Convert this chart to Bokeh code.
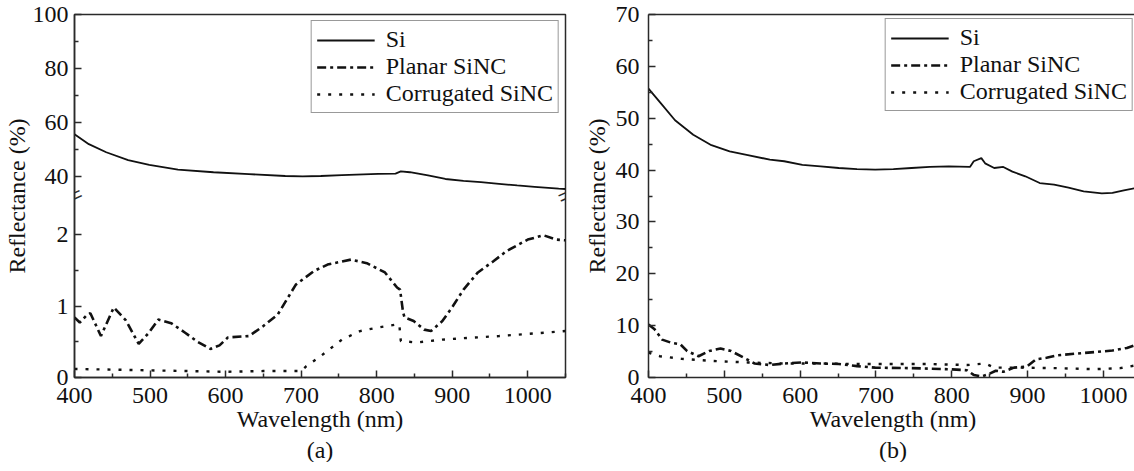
from bokeh.plotting import figure
from bokeh.models import Range1d, LinearAxis, FixedTicker, Label, Title
from bokeh.layouts import row
from bokeh.embed import file_html
from bokeh.resources import INLINE

# ---------------- data ----------------
# Panel (a)
a_si_wl = [400, 419, 442, 471, 499, 537, 584, 631, 679, 702, 726, 754, 773, 802, 825, 832, 844, 868, 891, 915, 938, 962, 986, 1009, 1041, 1050]
a_si_r = [55.7, 52.0, 49.0, 46.1, 44.3, 42.6, 41.6, 40.9, 40.2, 40.1, 40.2, 40.5, 40.7, 41.0, 41.1, 41.9, 41.6, 40.4, 39.1, 38.4, 37.9, 37.3, 36.7, 36.2, 35.5, 35.4]

a_pl_wl = [400, 407, 417, 421, 435, 452, 468, 485, 498, 511, 528, 546, 563, 580, 592, 603, 631, 650, 669, 693, 717, 735, 766, 787, 811, 827, 831, 835, 837, 849, 863, 872, 887, 901, 915, 934, 955, 972, 1000, 1021, 1038, 1050]
a_pl_r = [0.84, 0.77, 0.88, 0.90, 0.58, 0.98, 0.80, 0.47, 0.62, 0.81, 0.76, 0.63, 0.50, 0.40, 0.45, 0.56, 0.58, 0.72, 0.88, 1.30, 1.49, 1.58, 1.65, 1.60, 1.47, 1.26, 1.23, 0.91, 0.84, 0.79, 0.67, 0.65, 0.79, 1.00, 1.23, 1.47, 1.63, 1.77, 1.93, 1.99, 1.93, 1.92]

a_co_wl = [400, 450, 500, 550, 600, 650, 700, 707, 726, 754, 778, 802, 825, 830, 832, 853, 887, 915, 962, 1000, 1038, 1050]
a_co_r = [0.12, 0.11, 0.10, 0.09, 0.08, 0.09, 0.09, 0.16, 0.30, 0.53, 0.65, 0.70, 0.74, 0.74, 0.51, 0.49, 0.53, 0.55, 0.58, 0.61, 0.64, 0.65]

# Panel (b)
b_si_wl = [400, 415, 435, 459, 483, 507, 531, 560, 579, 603, 627, 651, 675, 699, 723, 747, 771, 796, 824, 829, 839, 844, 856, 868, 880, 897, 916, 935, 954, 974, 998, 1012, 1027, 1045]
b_si_r = [55.7, 53.1, 49.6, 46.8, 44.8, 43.6, 42.9, 42.0, 41.7, 41.0, 40.7, 40.4, 40.2, 40.1, 40.2, 40.4, 40.6, 40.7, 40.6, 41.7, 42.3, 41.3, 40.4, 40.6, 39.7, 38.8, 37.5, 37.2, 36.6, 35.9, 35.5, 35.6, 36.1, 36.6]

b_pl_wl = [400, 408, 418, 430, 442, 451, 466, 480, 495, 509, 526, 540, 560, 579, 603, 627, 651, 675, 699, 747, 796, 820, 829, 839, 848, 858, 868, 882, 899, 911, 925, 940, 964, 988, 1012, 1031, 1045]
b_pl_r = [10.2, 9.3, 7.3, 6.7, 6.4, 5.1, 4.1, 5.1, 5.6, 5.1, 3.8, 2.7, 2.4, 2.7, 2.9, 2.7, 2.6, 2.2, 1.9, 1.8, 1.6, 1.4, 0.5, 0.2, 0.6, 1.3, 1.1, 1.9, 2.1, 3.5, 3.8, 4.3, 4.6, 4.9, 5.2, 5.7, 6.4]

b_co_wl = [400, 415, 444, 483, 531, 579, 627, 675, 723, 771, 820, 844, 856, 892, 940, 988, 1022, 1045]
b_co_r = [4.8, 4.1, 3.6, 3.2, 2.9, 2.7, 2.7, 2.6, 2.6, 2.6, 2.4, 2.7, 1.9, 1.9, 1.8, 1.6, 1.8, 2.4]

x_ticks = [400, 500, 600, 700, 800, 900, 1000]
x_minor = [450, 550, 650, 750, 850, 950, 1050]
a_upper_ticks = [40, 60, 80, 100]
a_upper_minor = [50, 70, 90]
a_lower_ticks = [0, 1, 2]
a_lower_minor = [0.5, 1.5]
b_ticks = [0, 10, 20, 30, 40, 50, 60, 70]
b_minor = [5, 15, 25, 35, 45, 55, 65]

series_names = ["Si", "Planar SiNC", "Corrugated SiNC"]

# ---------------- style ----------------
FONT = "Liberation Serif"
FS = "24px"
INK = "#111111"
AX = "#2a2a2a"
DASHDOT = "9 4 3 4"
DOTTED = "3 8"

# broken axis of panel (a): lower range (main) and upper range (extra)
A_LOWER = (0.0, 5.08)
A_UPPER = (-34.4, 100.0)
A_BREAK = 2.545  # break position in lower-range units


def upper_to_lower(v):
    f = (v - A_UPPER[0]) / (A_UPPER[1] - A_UPPER[0])
    return round(A_LOWER[0] + f * (A_LOWER[1] - A_LOWER[0]), 4)


def style_axis(ax):
    ax.axis_line_color = AX
    ax.axis_line_width = 1.5
    ax.major_tick_in = 7
    ax.major_tick_out = 0
    ax.minor_tick_in = 4
    ax.minor_tick_out = 0
    ax.major_tick_line_color = AX
    ax.minor_tick_line_color = AX
    ax.major_tick_line_width = 1.5
    ax.minor_tick_line_width = 1.5
    ax.major_label_text_font = FONT
    ax.major_label_text_font_size = FS
    ax.major_label_text_color = INK
    ax.axis_label_text_font = FONT
    ax.axis_label_text_font_size = FS
    ax.axis_label_text_font_style = "normal"
    ax.axis_label_text_color = INK


def base_fig(x_end, frame_width, y_range, min_left, min_right):
    p = figure(frame_width=frame_width, frame_height=363,
               x_range=Range1d(400, x_end), y_range=y_range,
               output_backend="svg", toolbar_location=None,
               min_border_left=min_left, min_border_right=min_right,
               min_border_top=14, min_border_bottom=84,
               background_fill_color="white", border_fill_color="white")
    p.xgrid.visible = False
    p.ygrid.visible = False
    p.xaxis.ticker = FixedTicker(ticks=x_ticks, minor_ticks=x_minor)
    p.xaxis.axis_label = "Wavelength (nm)"
    p.yaxis.axis_label = "Reflectance (%)"
    for ax in p.xaxis + p.yaxis:
        style_axis(ax)
    p.xaxis.major_label_standoff = 10
    p.xaxis.axis_label_standoff = 0
    return p


def style_legend(p):
    lg = p.legend[0]
    lg.location = "top_right"
    lg.margin = 6
    lg.padding = 5
    lg.spacing = 0
    lg.label_height = 20
    lg.glyph_height = 20
    lg.glyph_width = 58
    lg.label_standoff = 11
    lg.label_text_font = FONT
    lg.label_text_font_size = FS
    lg.label_text_color = INK
    lg.border_line_color = "#333333"
    lg.border_line_width = 1
    lg.background_fill_alpha = 1.0


def add_caption(p, text):
    t = Title(text=text, align="center", text_font=FONT, text_font_size=FS,
              text_font_style="normal", text_color=INK, standoff=0)
    p.add_layout(t, "below")


# ---------------- panel (a) ----------------
pa = base_fig(1050, 491, Range1d(*A_LOWER), 67, 15)
pa.extra_y_ranges = {"upper": Range1d(*A_UPPER)}
pa.outline_line_color = AX
pa.outline_line_width = 1.5

ya_ticks = a_lower_ticks + [upper_to_lower(v) for v in a_upper_ticks]
ya_minor = a_lower_minor + [upper_to_lower(v) for v in a_upper_minor]
overrides = {v: str(v) for v in a_lower_ticks}
overrides.update({upper_to_lower(v): str(v) for v in a_upper_ticks})
pa.yaxis.ticker = FixedTicker(ticks=ya_ticks, minor_ticks=ya_minor)
pa.yaxis.major_label_overrides = overrides
pa.yaxis.major_label_standoff = 6
pa.yaxis.axis_label_standoff = 0

pa.line(a_si_wl, a_si_r, y_range_name="upper", line_color=INK, line_width=1.8,
        legend_label=series_names[0])
pa.line(a_pl_wl, a_pl_r, line_color=INK, line_width=2.6, line_dash=DASHDOT,
        legend_label=series_names[1])
pa.line(a_co_wl, a_co_r, line_color=INK, line_width=2.4, line_dash=DOTTED,
        legend_label=series_names[2])
style_legend(pa)
add_caption(pa, "(a)")

for xb in (400, 1050):
    pa.add_layout(Label(x=xb, y=A_BREAK, text="=", angle=0.42,
                        text_align="center", text_baseline="middle",
                        text_font=FONT, text_font_size="28px", text_color=AX))

# ---------------- panel (b) ----------------
pb = base_fig(1045, 489, Range1d(0, 70), 63, 1)
pb.outline_line_color = None
pb.yaxis.ticker = FixedTicker(ticks=b_ticks, minor_ticks=b_minor)
pb.yaxis.major_label_standoff = 9
pb.yaxis.axis_label_standoff = 3
top_ax = LinearAxis(ticker=FixedTicker(ticks=[]), axis_line_color=AX,
                    axis_line_width=1.5, major_label_standoff=0)
pb.add_layout(top_ax, "above")

pb.line(b_si_wl, b_si_r, line_color=INK, line_width=1.8, legend_label=series_names[0])
pb.line(b_pl_wl, b_pl_r, line_color=INK, line_width=2.6, line_dash=DASHDOT,
        legend_label=series_names[1])
pb.line(b_co_wl, b_co_r, line_color=INK, line_width=2.4, line_dash=DOTTED,
        legend_label=series_names[2])
style_legend(pb)
pb.legend[0].margin = 4
add_caption(pb, "(b)")

layout = row(pa, pb)
open("out.html", "w").write(file_html(layout, INLINE))
